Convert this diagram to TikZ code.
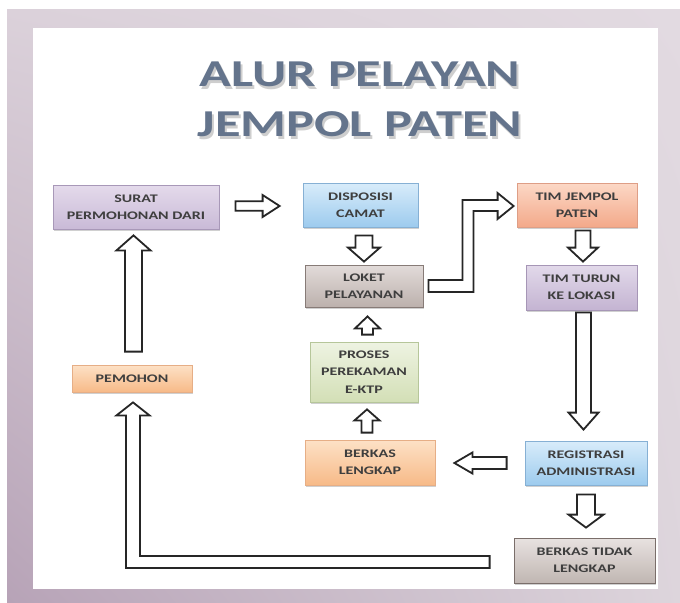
\documentclass[tikz,border=0pt]{standalone}
\usepackage{fontspec}
\newfontfamily\lblfont{Carlito}[FakeStretch=1.38]
\usetikzlibrary{calc,shadows,shadings}

\definecolor{labelgray}{HTML}{3E3E3E}
\definecolor{titleblue}{HTML}{64748C}
\definecolor{matUL}{HTML}{DBD1DA}\definecolor{matUR}{HTML}{E2DAE1}
\definecolor{matLL}{HTML}{B7A3B7}\definecolor{matLR}{HTML}{DDD5DC}
\definecolor{suratT}{HTML}{E4DAEB}\definecolor{suratB}{HTML}{C9BAD7}\definecolor{suratD}{HTML}{A898B8}
\definecolor{blueT}{HTML}{D8ECFA}\definecolor{blueB}{HTML}{9DCBEE}\definecolor{blueD}{HTML}{86B0D4}
\definecolor{loketT}{HTML}{E2DBD9}\definecolor{loketB}{HTML}{BCB1AD}\definecolor{loketD}{HTML}{877B77}
\definecolor{salmonT}{HTML}{FCD8C6}\definecolor{salmonB}{HTML}{F3A98A}\definecolor{salmonD}{HTML}{DE9E86}
\definecolor{lilacT}{HTML}{E2D9EA}\definecolor{lilacB}{HTML}{C4B4D2}\definecolor{lilacD}{HTML}{A696B6}
\definecolor{orangeT}{HTML}{FDE1C6}\definecolor{orangeB}{HTML}{F7BA88}\definecolor{orangeD}{HTML}{E6AE86}
\definecolor{greenT}{HTML}{EEF3E2}\definecolor{greenB}{HTML}{D3DFB6}\definecolor{greenD}{HTML}{B6C69A}
\definecolor{grayT}{HTML}{E8E2E0}\definecolor{grayB}{HTML}{C0B6B2}\definecolor{grayD}{HTML}{7A6E6A}

% hollow block arrow from #1 to the tip #2;
% #3 shaft half-width, #4 head half-width, #5 head length (all in px)
\newcommand\blockarrow[5]{%
  \path let \p1=(#1), \p2=(#2),
    \n1={atan2(\y2-\y1,\x2-\x1)}, \n2={veclen(\x2-\x1,\y2-\y1)} in
    \pgfextra{\xdef\baX{\x1}\xdef\baY{\y1}\xdef\baA{\n1}\xdef\baL{\n2}};
  \draw[hollow, shift={(\baX,\baY)}, rotate=\baA]
    (0pt,{-#3*0.75pt}) -- ({\baL-#5*0.75pt},{-#3*0.75pt})
    -- ({\baL-#5*0.75pt},{-#4*0.75pt}) -- (\baL,0pt)
    -- ({\baL-#5*0.75pt},{#4*0.75pt}) -- ({\baL-#5*0.75pt},{#3*0.75pt})
    -- (0pt,{#3*0.75pt}) -- cycle;}

\begin{document}
\begin{tikzpicture}[x=0.75pt,y=-0.75pt,
  flowbox/.style={draw, line width=0.6pt, inner sep=0pt, align=center,
    text=labelgray, font={\lblfont\bfseries\fontsize{8.7}{13}\selectfont},
    drop shadow={shadow xshift=1pt, shadow yshift=-1.2pt, opacity=0.3, fill=black!60}},
  boxsize/.style 2 args={minimum width={#1*0.75pt}, minimum height={#2*0.75pt}},
  tint/.style n args={3}{top color=#1, bottom color=#2, draw=#3},
  hollow/.style={draw=black!85, fill=white, line width=1.35pt, line join=miter},
  titletext/.style={anchor=base, inner sep=0pt,
    font={\lblfont\bfseries\fontsize{28.5}{37.5}\selectfont}},
  titleshade/.style={titletext, text=black!55, opacity=0.35}
]
\useasboundingbox (0,0) rectangle (680,602);

% mat and white panel
\shade[upper left=matUL, upper right=matUR, lower left=matLL, lower right=matLR]
  (7,10) rectangle (680,602);
\fill[white] (33,28) rectangle (658,589);

% title with its soft shadow
\node[titleshade] (shA) at (362,89.5) {ALUR PELAYAN};
\node[titleshade] (shB) at (362,139.5) {JEMPOL PATEN};
\node[titletext, text=titleblue] (titleA) at (360,87) {ALUR PELAYAN};
\node[titletext, text=titleblue] (titleB) at (360,137) {JEMPOL PATEN};

% process boxes
\node[flowbox, boxsize={166}{44}, tint={suratT}{suratB}{suratD}] (surat) at (136,207) {SURAT\\PERMOHONAN DARI};
\node[flowbox, boxsize={115}{44}, tint={blueT}{blueB}{blueD}] (disp) at (360.5,205) {DISPOSISI\\CAMAT};
\node[flowbox, boxsize={118}{42}, tint={loketT}{loketB}{loketD}] (loket) at (364,286) {LOKET\\PELAYANAN};
\node[flowbox, boxsize={120}{44}, tint={salmonT}{salmonB}{salmonD}] (timj) at (577,205) {TIM JEMPOL\\PATEN};
\node[flowbox, boxsize={111}{45}, tint={lilacT}{lilacB}{lilacD}] (timt) at (581.5,287.5) {TIM TURUN\\KE LOKASI};
\node[flowbox, boxsize={122}{44}, tint={blueT}{blueB}{blueD}] (reg) at (586,463) {REGISTRASI\\ADMINISTRASI};
\node[flowbox, boxsize={130}{45}, tint={orangeT}{orangeB}{orangeD}] (bl) at (370,462.5) {BERKAS\\LENGKAP};
\node[flowbox, boxsize={108}{60}, tint={greenT}{greenB}{greenD}] (proses) at (364,372) {PROSES\\PEREKAMAN\\E-KTP};
\node[flowbox, boxsize={120}{27}, tint={orangeT}{orangeB}{orangeD}] (pemohon) at (132,378.5) {PEMOHON};
\node[flowbox, boxsize={141}{45}, tint={grayT}{grayB}{grayD}] (btl) at (584.5,560.5) {BERKAS TIDAK\\LENGKAP};

% straight block arrows
\blockarrow{$(surat.east)+(16,-1)$}{$(surat.east -| disp.west)+(-23,-1)$}{4.8}{11}{17}
\blockarrow{$(disp.south -| loket.north)+(0,8)$}{$(loket.north)+(0,-3)$}{8.5}{16}{14}
\blockarrow{$(timj.south)+(6,3)$}{$(timt.north -| timj.south)+(6,-3)$}{7.5}{15}{14}
\blockarrow{$(timt.south)+(2,2)$}{$(reg.north -| timt.south)+(2,-11)$}{7.5}{15}{17}
\blockarrow{$(reg.west)+(-18,0)$}{$(reg.west -| bl.east)+(19,0)$}{6}{10.5}{18}
\blockarrow{$(bl.north)+(-3,-7)$}{$(proses.south -| bl.north)+(-3,7)$}{5.5}{12.5}{11}
\blockarrow{$(proses.north)+(3.5,-7)$}{$(loket.south -| proses.north)+(3.5,9)$}{5.5}{12.5}{12}
\blockarrow{$(reg.south)+(0,9)$}{$(btl.north -| reg.south)+(0,-10)$}{9}{17.5}{13}
\blockarrow{$(pemohon.north)+(1.5,-13)$}{$(surat.south -| pemohon.north)+(1.5,6)$}{8.5}{17}{15}

% bent arrow: loket -> tim jempol paten
\coordinate (bendL) at ($(loket.east)+(5,0)$);
\coordinate (bendX) at ($(bendL)+(39.5,0)$);
\coordinate (bendT) at ($(timj.west)+(-3,1)$);
\draw[hollow] ($(bendL)+(0,-6)$) -- ($(bendX)+(-5.5,-6)$)
  -- ($(bendX |- bendT)+(-5.5,-6)$) -- ($(bendT)+(-16,-6)$)
  -- ($(bendT)+(-16,-13)$) -- (bendT) -- ($(bendT)+(-16,13)$)
  -- ($(bendT)+(-16,5)$) -- ($(bendX |- bendT)+(5.5,5)$)
  -- ($(bendX)+(5.5,6)$) -- ($(bendL)+(0,6)$) -- cycle;

% return arrow: berkas tidak lengkap -> pemohon
\coordinate (retS) at ($(btl.west)+(-24,1.5)$);
\coordinate (retT) at ($(pemohon.south)+(1,10)$);
\draw[hollow] ($(retS)+(0,-6)$) -- ($(retS -| retT)+(7,-6)$)
  -- ($(retT)+(7,13)$) -- ($(retT)+(16.5,13)$) -- (retT)
  -- ($(retT)+(-16.5,13)$) -- ($(retT)+(-7,13)$)
  -- ($(retS -| retT)+(-7,6)$) -- ($(retS)+(0,6)$) -- cycle;
\end{tikzpicture}
\end{document}
